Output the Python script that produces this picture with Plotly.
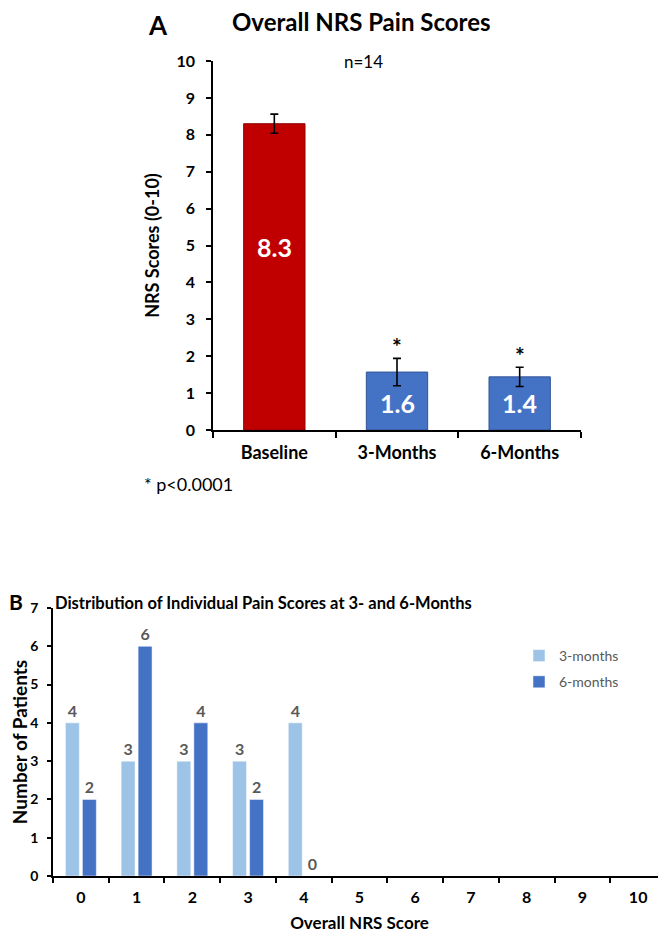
import plotly.graph_objects as go

# ---- Panel A data ----
timepoints = ["Baseline", "3-Months", "6-Months"]
mean_scores = [8.3, 1.57, 1.44]
score_labels = ["8.3", "1.6", "1.4"]
error_sd = [0.26, 0.37, 0.26]
bar_colors_a = ["#C00000", "#4472C4", "#4472C4"]
significant = [False, True, True]

# ---- Panel B data ----
nrs_scores = ["0", "1", "2", "3", "4", "5", "6", "7", "8", "9", "10"]
count_3m = [4, 3, 3, 3, 4, None, None, None, None, None, None]
count_6m = [2, 6, 4, 2, 0, None, None, None, None, None, None]

# The page body has an 8px default margin, so the figure is drawn 8px in from the corner.
OFF = 8
W, H = 666 - OFF, 933 - OFF
FONT = "Lato"

def px_x(p):
    return (p - OFF) / W

def px_y(p):
    return 1 - (p - OFF) / H

fig = go.Figure()

# Panel A bars
fig.add_trace(go.Bar(
    x=timepoints, y=mean_scores,
    marker=dict(color=bar_colors_a, line=dict(color=["#8B0000", "#2F5597", "#2F5597"], width=1)),
    width=0.5,
    error_y=dict(type="data", array=error_sd, color="black", thickness=1.6, width=4),
    showlegend=False, xaxis="x", yaxis="y", hoverinfo="skip",
))

# Panel B bars
fig.add_trace(go.Bar(
    x=nrs_scores, y=count_3m, name="3-months",
    marker=dict(color="#9DC3E6", line=dict(color="white", width=0.5)),
    text=[("" if v is None else str(v)) for v in count_3m],
    textposition="outside", cliponaxis=False,
    textfont=dict(family=FONT, size=16, color="#595959", weight="bold"),
    xaxis="x2", yaxis="y2", legendgroup="a",
))
fig.add_trace(go.Bar(
    x=nrs_scores, y=count_6m, name="6-months",
    marker=dict(color="#4472C4", line=dict(color="white", width=0.5)),
    text=[("" if v is None else str(v)) for v in count_6m],
    textposition="outside", cliponaxis=False,
    textfont=dict(family=FONT, size=16, color="#595959", weight="bold"),
    xaxis="x2", yaxis="y2", legendgroup="b",
))

annotations = []
# Values inside panel A bars
label_y = [4.95, 0.73, 0.73]
for tp, lab, ly in zip(timepoints, score_labels, label_y):
    annotations.append(dict(x=tp, y=ly, xref="x", yref="y", text=f"<b>{lab}</b>",
                            showarrow=False, font=dict(family=FONT, size=25, color="white")))
# Significance stars
for tp, m, e, s in zip(timepoints, mean_scores, error_sd, significant):
    if s:
        annotations.append(dict(x=tp, y=m + e, xref="x", yref="y", text="<b>*</b>",
                                showarrow=False, yanchor="bottom", yshift=-4,
                                font=dict(family=FONT, size=23, color="black")))

def note(xp, yp, text, size, xanchor="center", color="black"):
    return dict(x=px_x(xp), y=px_y(yp), xref="paper", yref="paper", text=text,
                showarrow=False, xanchor=xanchor, yanchor="middle",
                font=dict(family=FONT, size=size, color=color))

annotations += [
    note(158, 25, "<b>A</b>", 26),
    note(361, 22, "<b>Overall NRS Pain Scores</b>", 24),
    note(363, 62, "n=14", 17),
    note(142, 484, "* p<0.0001", 18, xanchor="left"),
    note(16, 601, "<b>B</b>", 21),
    note(263, 603, "<b>Distribution of Individual Pain Scores at 3- and 6-Months</b>", 16.5),
]

axis_common = dict(showgrid=False, zeroline=False, showline=True, linecolor="black",
                   linewidth=1.5, ticks="outside", tickcolor="black", tickwidth=1.5,
                   automargin=False)

fig.update_layout(
    template="none",
    width=W, height=H, margin=dict(l=0, r=0, t=0, b=0, pad=0),
    paper_bgcolor="white", plot_bgcolor="white",
    font=dict(family=FONT, color="black"),
    barmode="group", bargap=0.39, bargroupgap=0.18,
    xaxis=dict(type="category", domain=[px_x(213), px_x(581)], anchor="y", tickson="boundaries",
               ticklen=6, tickfont=dict(family=FONT, size=18, weight="bold"), ticklabelstandoff=6,
               **axis_common),
    yaxis=dict(domain=[px_y(430), px_y(61)], anchor="x", range=[0, 10], dtick=1, ticklen=5,
               tickfont=dict(family=FONT, size=16, weight="bold"), ticklabelstandoff=8,
               title=dict(text="<b>NRS Scores (0-10)</b>", font=dict(family=FONT, size=18), standoff=12),
               **axis_common),
    xaxis2=dict(type="category", domain=[px_x(53), 1.0], anchor="y2", tickson="boundaries",
                ticklen=5, tickfont=dict(family=FONT, size=16, weight="bold"), ticklabelstandoff=6,
                title=dict(text="<b>Overall NRS Score</b>", font=dict(family=FONT, size=17), standoff=14),
                **axis_common),
    yaxis2=dict(domain=[px_y(876), px_y(608)], anchor="x2", range=[0, 7], dtick=1, ticklen=4,
                tickfont=dict(family=FONT, size=14, weight="bold"), ticklabelstandoff=6,
                title=dict(text="<b>Number of Patients</b>", font=dict(family=FONT, size=19), standoff=8),
                **axis_common),
    legend=dict(x=px_x(519), y=px_y(640), xanchor="left", yanchor="top",
                font=dict(family=FONT, size=14, color="#595959"),
                tracegroupgap=5, traceorder="grouped", bgcolor="rgba(0,0,0,0)"),
    annotations=annotations,
)

fig.write_html("out.html")
